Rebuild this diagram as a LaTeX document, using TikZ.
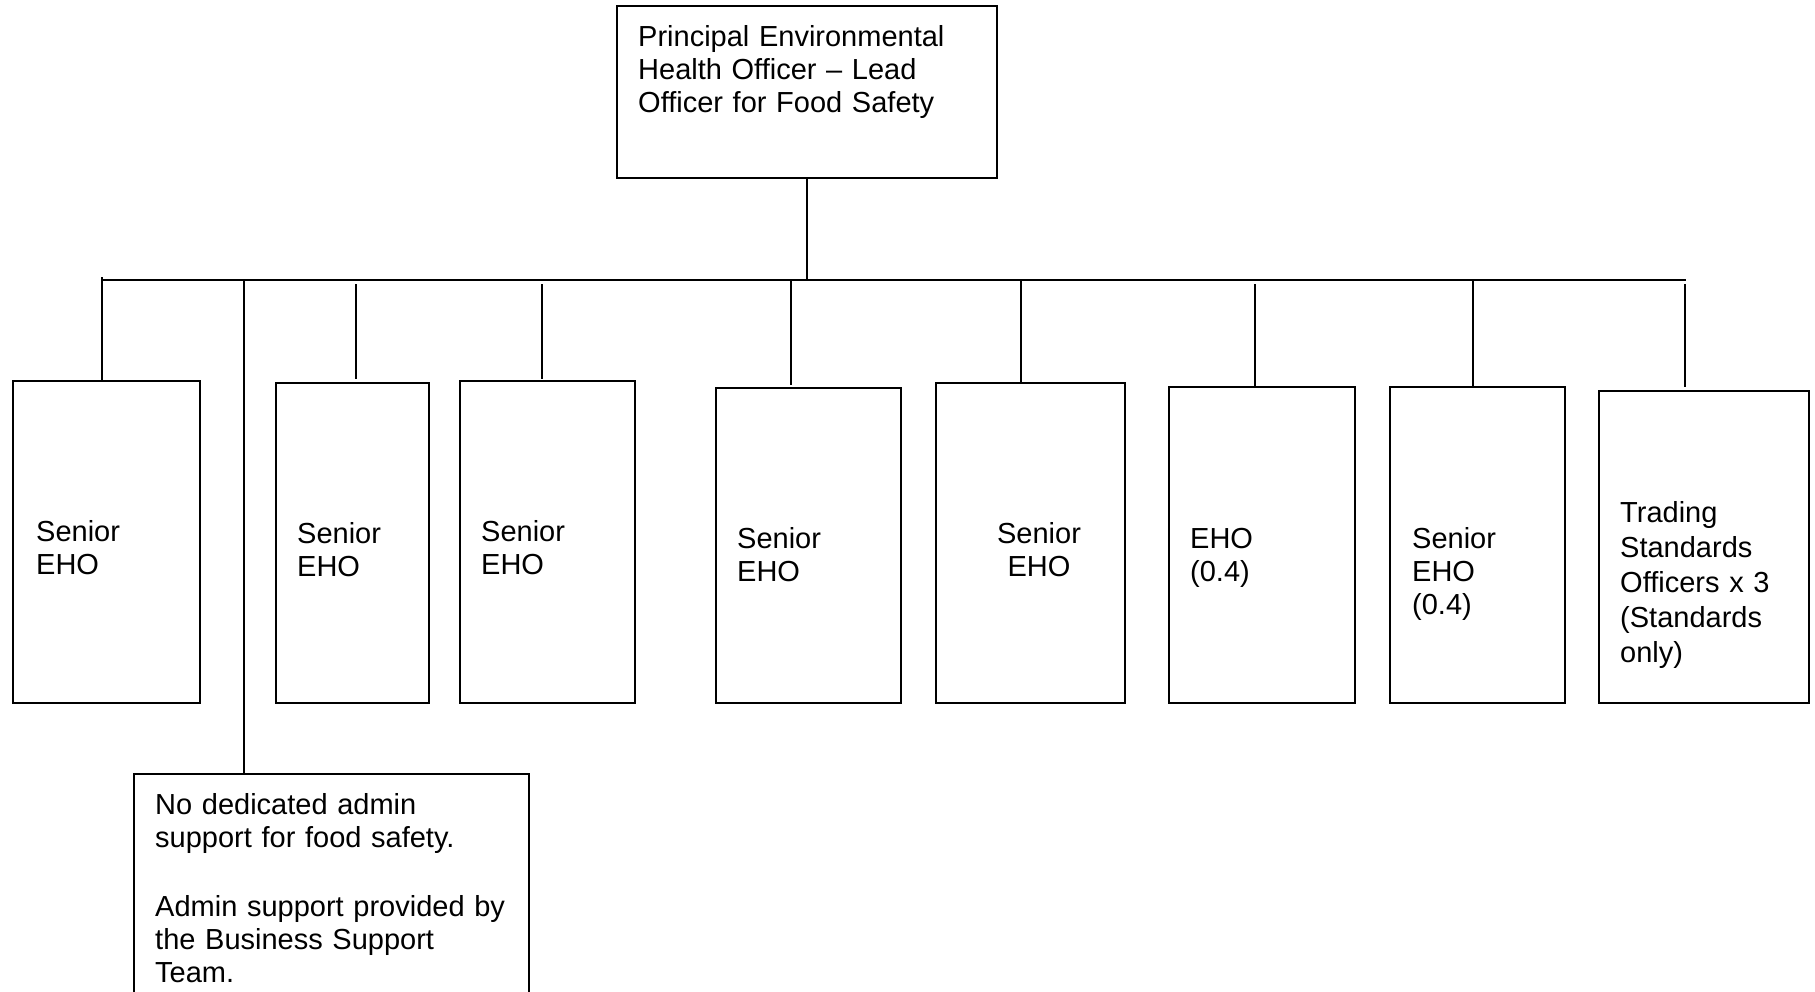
\documentclass[tikz,border=0pt]{standalone}
\usepackage{fontspec}
\setmainfont{Liberation Sans}
\begin{document}
\begin{tikzpicture}[x=1pt,y=-1pt,
  box/.style={draw=black, line width=2pt, inner sep=0pt, outer sep=0pt, anchor=north west},
  txt/.style={inner sep=0pt, anchor=base west, align=left, text width=400pt, font=\fontsize{29}{33}\selectfont},
  conn/.style={draw=black, line width=2pt}]
\path[use as bounding box] (0,0) rectangle (1815,991);
\clip (0,0) rectangle (1815,991);

% boxes
\node[box, minimum width=380pt, minimum height=172pt] (top) at (617,6) {};
\node[box, minimum width=187pt, minimum height=322pt] (b1) at (13,381) {};
\node[box, minimum width=153pt, minimum height=320pt] (b2) at (276,383) {};
\node[box, minimum width=175pt, minimum height=322pt] (b3) at (460,381) {};
\node[box, minimum width=185pt, minimum height=315pt] (b4) at (716,388) {};
\node[box, minimum width=189pt, minimum height=320pt] (b5) at (936,383) {};
\node[box, minimum width=186pt, minimum height=316pt] (b6) at (1169,387) {};
\node[box, minimum width=175pt, minimum height=316pt] (b7) at (1390,387) {};
\node[box, minimum width=210pt, minimum height=312pt] (b8) at (1599,391) {};
\node[box, minimum width=395pt, minimum height=260pt] (admin) at (134,774) {};

% texts
\node[txt] (ttop) at (638,46) {Principal Environmental\\Health Officer – Lead\\Officer for Food Safety};
\node[txt] (t1) at (36,541) {Senior\\EHO};
\node[txt] (t2) at (297,543) {Senior\\EHO};
\node[txt] (t3) at (481,541) {Senior\\EHO};
\node[txt] (t4) at (737,548) {Senior\\EHO};
\node[txt, anchor=base, align=center, text width=200pt] (t5) at (1039,543) {Senior\\EHO};
\node[txt] (t6) at (1190,548) {EHO\\(0.4)};
\node[txt] (t7) at (1412,548) {Senior\\EHO\\(0.4)};
\node[txt, font=\fontsize{29}{35}\selectfont] (t8) at (1620,522) {Trading\\Standards\\Officers x 3\\(Standards\\only)};
\node[txt] (ta) at (155,814) {No dedicated admin\\support for food safety.\\[36pt]Admin support provided by\\the Business Support\\Team.};

% connectors
\coordinate (busL) at (103,280);
\coordinate (busR) at (1686,280);
\coordinate (j1) at (102,277);
\coordinate (ja) at (244,280);
\coordinate (j2) at (356,284);
\coordinate (j3) at (542,284);
\coordinate (j4) at (791,280);
\coordinate (j5) at (1021,280);
\coordinate (j6) at (1255,284);
\coordinate (j7) at (1473,280);
\coordinate (j8) at (1685,284);

\draw[conn] (busL) -- (busR);
\draw[conn] (top.south) -- (top.south |- busL);
\draw[conn] (j1) -- (j1 |- b1.north);
\draw[conn] (ja) -- (ja |- admin.north);
\draw[conn, shorten >=4pt] (j2) -- (j2 |- b2.north);
\draw[conn, shorten >=2pt] (j3) -- (j3 |- b3.north);
\draw[conn, shorten >=3pt] (j4) -- (j4 |- b4.north);
\draw[conn] (j5) -- (j5 |- b5.north);
\draw[conn] (j6) -- (j6 |- b6.north);
\draw[conn] (j7) -- (j7 |- b7.north);
\draw[conn, shorten >=4pt] (j8) -- (j8 |- b8.north);
\end{tikzpicture}
\end{document}
